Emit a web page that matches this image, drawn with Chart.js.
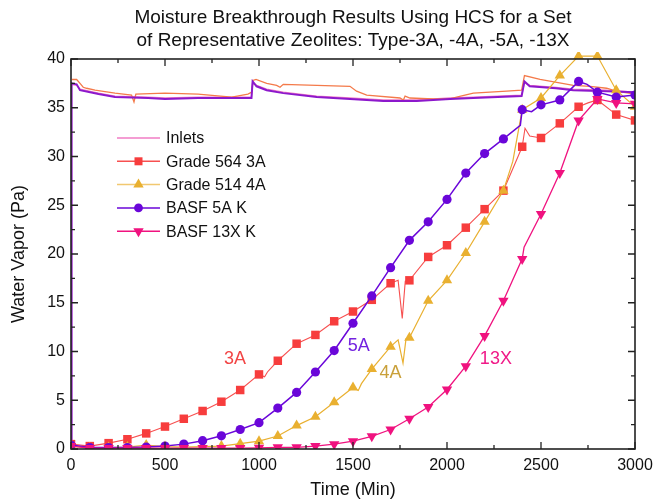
<!DOCTYPE html>
<html><head><meta charset="utf-8">
<script src="https://cdn.jsdelivr.net/npm/chart.js@4.4.1/dist/chart.umd.min.js"></script>
<style>html,body{margin:0;padding:0;background:#fff}#wrap{width:653px;height:501px;position:relative}</style>
</head><body><div id="wrap"><canvas id="c"></canvas></div>
<script>
const titleLines = ["Moisture Breakthrough Results Using HCS for a Set", "of Representative Zeolites: Type-3A, -4A, -5A, -13X"];
const xTitle = "Time (Min)";
const yTitle = "Water Vapor (Pa)";
const xTickValues = [0, 500, 1000, 1500, 2000, 2500, 3000];
const yTickValues = [0, 5, 10, 15, 20, 25, 30, 35, 40];
const legendLabels = ["Inlets", "Grade 564 3A", "Grade 514 4A", "BASF 5A K", "BASF 13X K"];
const curveLabels = ["3A", "5A", "4A", "13X"];

// Grade 564 3A
const t3A = [0,100,200,300,400,500,600,700,800,900,1000,1030,1045,1100,1200,1300,1400,1500,1600,1700,1740,1762,1778,1800,1900,2000,2100,2200,2300,2400,2415,2440,2500,2600,2700,2750,2800,2900,3000];
const v3A = [0.5,0.3,0.6,1.0,1.6,2.3,3.1,3.9,4.85,6.05,7.65,7.4,7.9,9.05,10.8,11.7,13.1,14.1,15.3,17.0,17.3,13.4,17.2,17.3,19.7,20.9,22.7,24.6,26.5,31.0,32.9,32.1,31.9,33.4,35.1,35.5,35.8,34.3,33.7];
// Grade 514 4A
const t4A = [0,100,200,300,400,500,600,700,800,900,1000,1100,1200,1300,1400,1500,1528,1545,1600,1700,1740,1766,1782,1800,1900,2000,2100,2200,2300,2350,2400,2500,2600,2700,2800,2900,3000];
const v4A = [0.3,0.1,0.15,0.2,0.4,0.25,0.2,0.25,0.3,0.55,0.8,1.33,2.4,3.3,4.8,6.3,6.0,6.7,8.2,10.5,11.2,8.8,11.3,11.4,15.2,17.3,20.1,23.3,26.5,29.5,34.8,36.0,38.3,40.3,40.3,36.8,35.1];
// BASF 5A K
const t5A = [0,100,200,300,400,500,600,700,800,900,1000,1100,1200,1300,1400,1500,1600,1700,1800,1900,2000,2100,2200,2300,2390,2400,2450,2500,2600,2700,2745,2800,2900,3000];
const v5A = [0.4,0.15,0.15,0.15,0.2,0.3,0.5,0.85,1.35,2.0,2.7,4.2,5.8,7.9,10.1,12.9,15.7,18.6,21.4,23.3,25.6,28.3,30.3,31.8,33.2,34.8,34.6,35.3,35.8,37.7,37.4,36.6,36.1,36.3];
// BASF 13X K
const t13X = [0,100,200,300,400,500,600,700,800,900,1000,1100,1200,1300,1400,1500,1600,1700,1800,1900,2000,2100,2200,2300,2400,2410,2500,2600,2700,2800,2900,3000];
const v13X = [0.3,0.1,0.1,0.1,0.1,0.1,0.1,0.1,0.1,0.1,0.12,0.17,0.17,0.3,0.5,0.8,1.3,2.0,3.1,4.3,6.1,8.5,11.6,15.2,19.5,20.7,24.1,28.3,33.7,35.9,35.5,35.4];
// Inlet traces
const tInletA = [5,30,48,65,83,128,234,322,335,345,500,676,855,941,962,968,984,1041,1094,1112,1129,1307,1484,1519,1573,1750,1768,1777,1803,1927,2016,2051,2140,2317,2397,2412,2495,2672,2761,2849,2900,3000];
const vInletA = [37.9,37.9,37.5,37.1,37.0,36.8,36.5,36.3,35.6,36.4,36.5,36.4,36.1,36.4,36.6,37.8,37.9,37.5,37.3,37.1,37.4,37.3,37.2,36.7,36.3,36.0,35.8,36.2,36.0,35.9,35.9,36.1,36.5,36.7,36.8,38.3,37.9,37.3,37.2,37.0,36.7,36.4];
const tInletB = [0,3,30,48,146,234,410,500,676,960,966,987,1041,1129,1307,1484,1661,1839,2016,2140,2397,2412,2440,2580,2672,2849,3000];
const vInletB = [0,37.5,37.4,36.8,36.4,36.1,36.0,35.9,36.0,36.0,37.7,37.2,36.8,36.5,36.1,35.9,35.7,35.7,35.9,36.0,36.2,37.7,37.2,37.0,36.8,36.7,36.6];
const tInletC = [0,3,30,48,146,234,410,500,676,960,966,987,1041,1129,1307,1484,1661,1839,2016,2140,2397,2412,2440,2580,2672,2849,3000];
const vInletC = [0,37.4,37.3,36.9,36.5,36.2,36.1,36.0,36.1,36.1,37.6,37.3,36.9,36.6,36.2,36.0,35.8,35.8,36.0,36.1,36.3,37.6,37.3,37.1,36.9,36.8,36.6];

const pts = (t, v) => t.map((x, i) => ({x: x, y: v[i]}));
const FONT = "'Liberation Sans', Arial, sans-serif";
const markR = (r) => (ctx) => (ctx.raw && ctx.raw.x % 100 === 0 ? r : 0);

const C3A = '#f73d3d', C4A = '#e9b030', C5A = '#6a06d9', C13X = '#f0127f';
const CInA = '#f47a4a', CInB = '#8c18cc', CInC = '#f07cc4';

const datasets = [
  {label: legendLabels[4], data: pts(t13X, v13X), borderColor: C13X, backgroundColor: C13X, borderWidth: 1.3,
   pointStyle: 'triangle', rotation: 180, pointRadius: markR(6), order: 1},
  {label: legendLabels[3], data: pts(t5A, v5A), borderColor: C5A, backgroundColor: C5A, borderWidth: 1.5,
   pointStyle: 'circle', pointRadius: markR(4.6), order: 2},
  {label: legendLabels[2], data: pts(t4A, v4A), borderColor: C4A, backgroundColor: C4A, borderWidth: 1.2,
   pointStyle: 'triangle', pointRadius: markR(6), order: 3, clip: {left: 0, top: 7, right: 0, bottom: 0}},
  {label: legendLabels[1], data: pts(t3A, v3A), borderColor: '#f75050', backgroundColor: C3A, borderWidth: 1.1,
   pointStyle: 'rect', pointRadius: markR(6), order: 4},
  {label: 'inletB', data: pts(tInletB, vInletB), borderColor: CInB, borderWidth: 2, pointRadius: 0, order: 5},
  {label: 'inletA', data: pts(tInletA, vInletA), borderColor: CInA, borderWidth: 1.3, pointRadius: 0, order: 6},
  {label: legendLabels[0], data: pts(tInletC, vInletC), borderColor: CInC, borderWidth: 1.3, pointRadius: 0, order: 7}
];
datasets.forEach(d => { d.showLine = true; d.pointBorderWidth = 0; d.pointHoverRadius = 0; d.tension = 0; });

const legendItems = [
  {text: legendLabels[0], line: CInC, mark: null},
  {text: legendLabels[1], line: '#f75050', mark: C3A, style: 'rect', r: 4},
  {text: legendLabels[2], line: '#f1c870', mark: C4A, style: 'triangle', r: 6},
  {text: legendLabels[3], line: C5A, mark: C5A, style: 'circle', r: 4.4},
  {text: legendLabels[4], line: C13X, mark: C13X, style: 'triangleDown', r: 6}
];
const curveLabelStyle = [
  {text: curveLabels[0], color: '#f24545', x: 872, y: 9.2},
  {text: curveLabels[1], color: '#7322e0', x: 1530, y: 10.6},
  {text: curveLabels[2], color: '#c9a03a', x: 1700, y: 7.8},
  {text: curveLabels[3], color: '#f01a88', x: 2260, y: 9.2}
];

function marker(ctx, style, r, cx, cy) {
  ctx.beginPath();
  if (style === 'rect') { ctx.rect(cx - r, cy - r, 2 * r, 2 * r); }
  else if (style === 'circle') { ctx.arc(cx, cy, r, 0, Math.PI * 2); }
  else {
    const s = style === 'triangle' ? 1 : -1;
    for (let k = 0; k < 3; k++) {
      const ang = k * 2 * Math.PI / 3;
      const px = cx + Math.sin(ang) * r, py = cy - s * Math.cos(ang) * r;
      if (k === 0) ctx.moveTo(px, py); else ctx.lineTo(px, py);
    }
    ctx.closePath();
  }
  ctx.fill();
}

const decor = {
  id: 'decor',
  afterDraw(chart) {
    const {ctx, chartArea: a, scales: {x, y}} = chart;
    ctx.save();
    ctx.strokeStyle = '#222'; ctx.lineWidth = 1.6;
    ctx.strokeRect(a.left, a.top, a.right - a.left, a.bottom - a.top);
    ctx.lineWidth = 1.3;
    ctx.beginPath();
    for (let v = 0; v <= 3000; v += 250) {
      const px = x.getPixelForValue(v); const L = v % 500 === 0 ? 7 : 4;
      ctx.moveTo(px, a.bottom); ctx.lineTo(px, a.bottom - L);
      ctx.moveTo(px, a.top); ctx.lineTo(px, a.top + L);
    }
    for (let v = 0; v <= 40; v += 2.5) {
      const py = y.getPixelForValue(v); const L = v % 5 === 0 ? 7 : 4;
      ctx.moveTo(a.left, py); ctx.lineTo(a.left + L, py);
      ctx.moveTo(a.right, py); ctx.lineTo(a.right - L, py);
    }
    ctx.stroke();
    ctx.fillStyle = '#111'; ctx.textAlign = 'center'; ctx.textBaseline = 'middle';
    ctx.font = '19px ' + FONT;
    const cx = (a.left + a.right) / 2;
    ctx.fillText(titleLines[0], cx, 18);
    ctx.fillText(titleLines[1], cx, 41);
    ctx.font = '18px ' + FONT;
    ctx.fillText(xTitle, cx, 490);
    ctx.save(); ctx.translate(19, (a.top + a.bottom) / 2); ctx.rotate(-Math.PI / 2);
    ctx.fillText(yTitle, 0, 0); ctx.restore();
    ctx.font = '18px ' + FONT;
    curveLabelStyle.forEach(l => {
      ctx.fillStyle = l.color;
      ctx.fillText(l.text, x.getPixelForValue(l.x), y.getPixelForValue(l.y));
    });
    ctx.font = '16px ' + FONT; ctx.textAlign = 'left';
    legendItems.forEach((it, i) => {
      const yy = 138 + i * 23.3;
      ctx.strokeStyle = it.line; ctx.lineWidth = 1.5;
      ctx.beginPath(); ctx.moveTo(117, yy); ctx.lineTo(160, yy); ctx.stroke();
      if (it.mark) { ctx.fillStyle = it.mark; marker(ctx, it.style, it.r, 138.5, yy); }
      ctx.fillStyle = '#111';
      ctx.fillText(it.text, 166, yy + 1);
    });
    ctx.restore();
  }
};

new Chart(document.getElementById('c'), {
  type: 'scatter',
  data: {datasets},
  plugins: [decor],
  options: {
    responsive: true, maintainAspectRatio: false, animation: false,
    layout: {padding: {top: 59, right: 18, left: 0, bottom: 0}},
    plugins: {legend: {display: false}, title: {display: false}, tooltip: {enabled: false}},
    scales: {
      x: {type: 'linear', min: 0, max: 3000,
        afterBuildTicks: s => { s.ticks = xTickValues.map(v => ({value: v})); },
        afterFit: s => { s.height = 52; s.paddingLeft = 0; s.paddingRight = 0; },
        grid: {display: false, drawTicks: false}, border: {display: false},
        ticks: {color: '#111', font: {family: FONT, size: 16}, padding: 7, maxRotation: 0, callback: v => String(v)}},
      y: {type: 'linear', min: 0, max: 40,
        afterBuildTicks: s => { s.ticks = yTickValues.map(v => ({value: v})); },
        afterFit: s => { s.width = 71; s.paddingTop = 0; s.paddingBottom = 0; },
        grid: {display: false, drawTicks: false}, border: {display: false},
        ticks: {color: '#111', font: {family: FONT, size: 16}, padding: 6, callback: v => String(v)}}
    }
  }
});
</script></body></html>
